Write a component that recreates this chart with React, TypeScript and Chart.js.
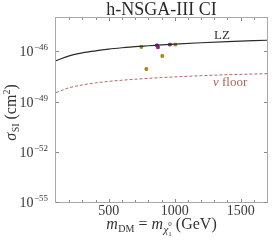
import React, { useEffect, useRef } from 'react';
import { Chart, registerables } from 'chart.js';
Chart.register(...registerables);

const titleText = 'h-NSGA-III CI';
const massGrid = [100, 200, 300, 400, 500, 600, 700, 800, 900, 1000, 1200, 1400, 1700];
const lzLogSigma = [-46.55, -46.26, -46.08, -45.96, -45.86, -45.78, -45.71, -45.66, -45.61, -45.56, -45.48, -45.41, -45.33];
const nuLogSigma = [-48.46, -48.17, -48.0, -47.88, -47.79, -47.72, -47.66, -47.61, -47.56, -47.52, -47.45, -47.39, -47.33];
const oliveMass = [747, 1005, 906, 785];
const oliveLogSigma = [-45.73, -45.59, -46.27, -47.05];
const purpleMass = [866, 873, 964];
const purpleLogSigma = [-45.63, -45.75, -45.59];
const xMajorTicks = [500, 1000, 1500];
const xMinorTicks = [200, 300, 400, 600, 700, 800, 900, 1100, 1200, 1300, 1400, 1600];
const yTickExps = [-55, -52, -49, -46];
const lzLabel = 'LZ';
const nuLabel = 'floor';

const SERIF = '"Liberation Serif", "DejaVu Serif", serif';

type Seg = { t: string; f: string; dy?: number; dx?: number; noAdvance?: boolean };

function drawRich(ctx: CanvasRenderingContext2D, segs: Seg[], x: number, y: number, align: 'left' | 'center' | 'right') {
  let total = 0;
  for (const s of segs) {
    ctx.font = s.f;
    if (!s.noAdvance) total += ctx.measureText(s.t).width + (s.dx || 0);
  }
  let cx = align === 'left' ? x : align === 'center' ? x - total / 2 : x - total;
  ctx.textAlign = 'left';
  ctx.textBaseline = 'alphabetic';
  for (const s of segs) {
    ctx.font = s.f;
    ctx.fillText(s.t, cx + (s.dx || 0), y + (s.dy || 0));
    if (!s.noAdvance) cx += ctx.measureText(s.t).width + (s.dx || 0);
  }
}

const decorPlugin = {
  id: 'decor',
  afterDraw(chart: any) {
    const ctx: CanvasRenderingContext2D = chart.ctx;
    const { left, right, top, bottom } = chart.chartArea;
    const xs = chart.scales.x;
    const ys = chart.scales.y;
    ctx.save();
    ctx.strokeStyle = '#a8a8a8';
    ctx.lineWidth = 1;
    ctx.strokeRect(left - 0.5, top - 0.5, right - left + 1, bottom - top + 1);
    ctx.strokeStyle = '#8a8a8a';
    ctx.beginPath();
    for (const v of xMinorTicks) {
      const px = Math.round(xs.getPixelForValue(v)) + 0.5;
      ctx.moveTo(px, bottom); ctx.lineTo(px, bottom - 2);
      ctx.moveTo(px, top); ctx.lineTo(px, top + 2);
    }
    for (const v of xMajorTicks) {
      const px = Math.round(xs.getPixelForValue(v)) + 0.5;
      ctx.moveTo(px, bottom); ctx.lineTo(px, bottom - 3);
      ctx.moveTo(px, top); ctx.lineTo(px, top + 3);
    }
    for (const e of yTickExps) {
      const py = Math.round(ys.getPixelForValue(Math.pow(10, e))) + 0.5;
      ctx.moveTo(left, py); ctx.lineTo(left + 3, py);
      ctx.moveTo(right, py); ctx.lineTo(right - 3, py);
    }
    ctx.stroke();
    ctx.fillStyle = '#3a3a3a';
    for (const v of xMajorTicks) {
      const px = xs.getPixelForValue(v);
      drawRich(ctx, [{ t: String(v), f: `14px ${SERIF}` }], px, 215, 'center');
    }
    for (const e of yTickExps) {
      const py = ys.getPixelForValue(Math.pow(10, e));
      drawRich(ctx, [
        { t: '10', f: `14px ${SERIF}` },
        { t: '\u2212' + String(-e), f: `9px ${SERIF}`, dy: -6, dx: 0.5 },
      ], 48, py + 5, 'right');
    }
    ctx.fillStyle = '#2a2a2a';
    drawRich(ctx, [{ t: titleText, f: `18px ${SERIF}` }], (left + right) / 2, 15, 'center');
    ctx.fillStyle = '#333';
    drawRich(ctx, [
      { t: 'm', f: `italic 16px ${SERIF}` },
      { t: 'DM', f: `10px ${SERIF}`, dy: 3, dx: 0.5 },
      { t: ' = ', f: `16px ${SERIF}` },
      { t: 'm', f: `italic 16px ${SERIF}` },
      { t: '\u03C7', f: `italic 11px ${SERIF}`, dy: 4, dx: 0.5 },
      { t: '0', f: `7px ${SERIF}`, dy: -3, noAdvance: true },
      { t: '1', f: `7px ${SERIF}`, dy: 7 },
      { t: ' (GeV)', f: `16px ${SERIF}` },
    ], (left + right) / 2, 229, 'center');
    ctx.save();
    ctx.translate(16, 112.5);
    ctx.rotate(-Math.PI / 2);
    drawRich(ctx, [
      { t: '\u03C3', f: `italic 16px ${SERIF}` },
      { t: 'SI', f: `10px ${SERIF}`, dy: 3, dx: 0.5 },
      { t: ' (cm', f: `16px ${SERIF}` },
      { t: '2', f: `10px ${SERIF}`, dy: -6 },
      { t: ')', f: `16px ${SERIF}` },
    ], 0, 0, 'center');
    ctx.restore();
    ctx.fillStyle = '#333';
    drawRich(ctx, [{ t: lzLabel, f: `13px ${SERIF}` }], 214, 39, 'left');
    ctx.fillStyle = '#a8675f';
    drawRich(ctx, [
      { t: '\u03BD', f: `italic 13px ${SERIF}` },
      { t: ' ' + nuLabel, f: `13px ${SERIF}` },
    ], 213, 86, 'left');
    ctx.restore();
  },
};

export default function App() {
  const ref = useRef<HTMLCanvasElement | null>(null);
  useEffect(() => {
    document.body.style.margin = '0';
    const toPts = (xs: number[], ls: number[]) => xs.map((x, i) => ({ x, y: Math.pow(10, ls[i]) }));
    const chart = new Chart(ref.current as HTMLCanvasElement, {
      type: 'scatter',
      data: {
        datasets: [
          {
            label: 'LZ',
            data: toPts(massGrid, lzLogSigma),
            showLine: true,
            borderColor: '#2a2a2a',
            borderWidth: 1.2,
            pointRadius: 0,
            cubicInterpolationMode: 'monotone',
          } as any,
          {
            label: 'nu floor',
            data: toPts(massGrid, nuLogSigma),
            showLine: true,
            borderColor: '#b06a62',
            borderWidth: 1,
            borderDash: [3, 2],
            pointRadius: 0,
            cubicInterpolationMode: 'monotone',
          } as any,
          {
            label: 'olive',
            data: toPts(oliveMass, oliveLogSigma),
            backgroundColor: '#a8850c',
            borderColor: '#a8850c',
            pointRadius: 1.8,
            pointStyle: 'rect',
          },
          {
            label: 'purple',
            data: toPts(purpleMass, purpleLogSigma),
            backgroundColor: '#8e1d8e',
            borderColor: '#8e1d8e',
            pointRadius: 1.8,
            pointStyle: 'rect',
          },
        ],
      },
      options: {
        responsive: false,
        animation: false,
        layout: { padding: { left: 56, right: 12, top: 18, bottom: 39 } },
        plugins: { legend: { display: false }, tooltip: { enabled: false } },
        scales: {
          x: { type: 'linear', min: 100, max: 1700, display: false },
          y: { type: 'logarithmic', min: 1e-55, max: 1e-44, display: false },
        },
      },
      plugins: [decorPlugin],
    });
    return () => chart.destroy();
  }, []);
  return (
    <div style={{ position: 'fixed', left: 0, top: 0, width: 279, height: 241, background: '#fff' }}>
      <canvas ref={ref} width={279} height={241} style={{ width: 279, height: 241 }} />
    </div>
  );
}
